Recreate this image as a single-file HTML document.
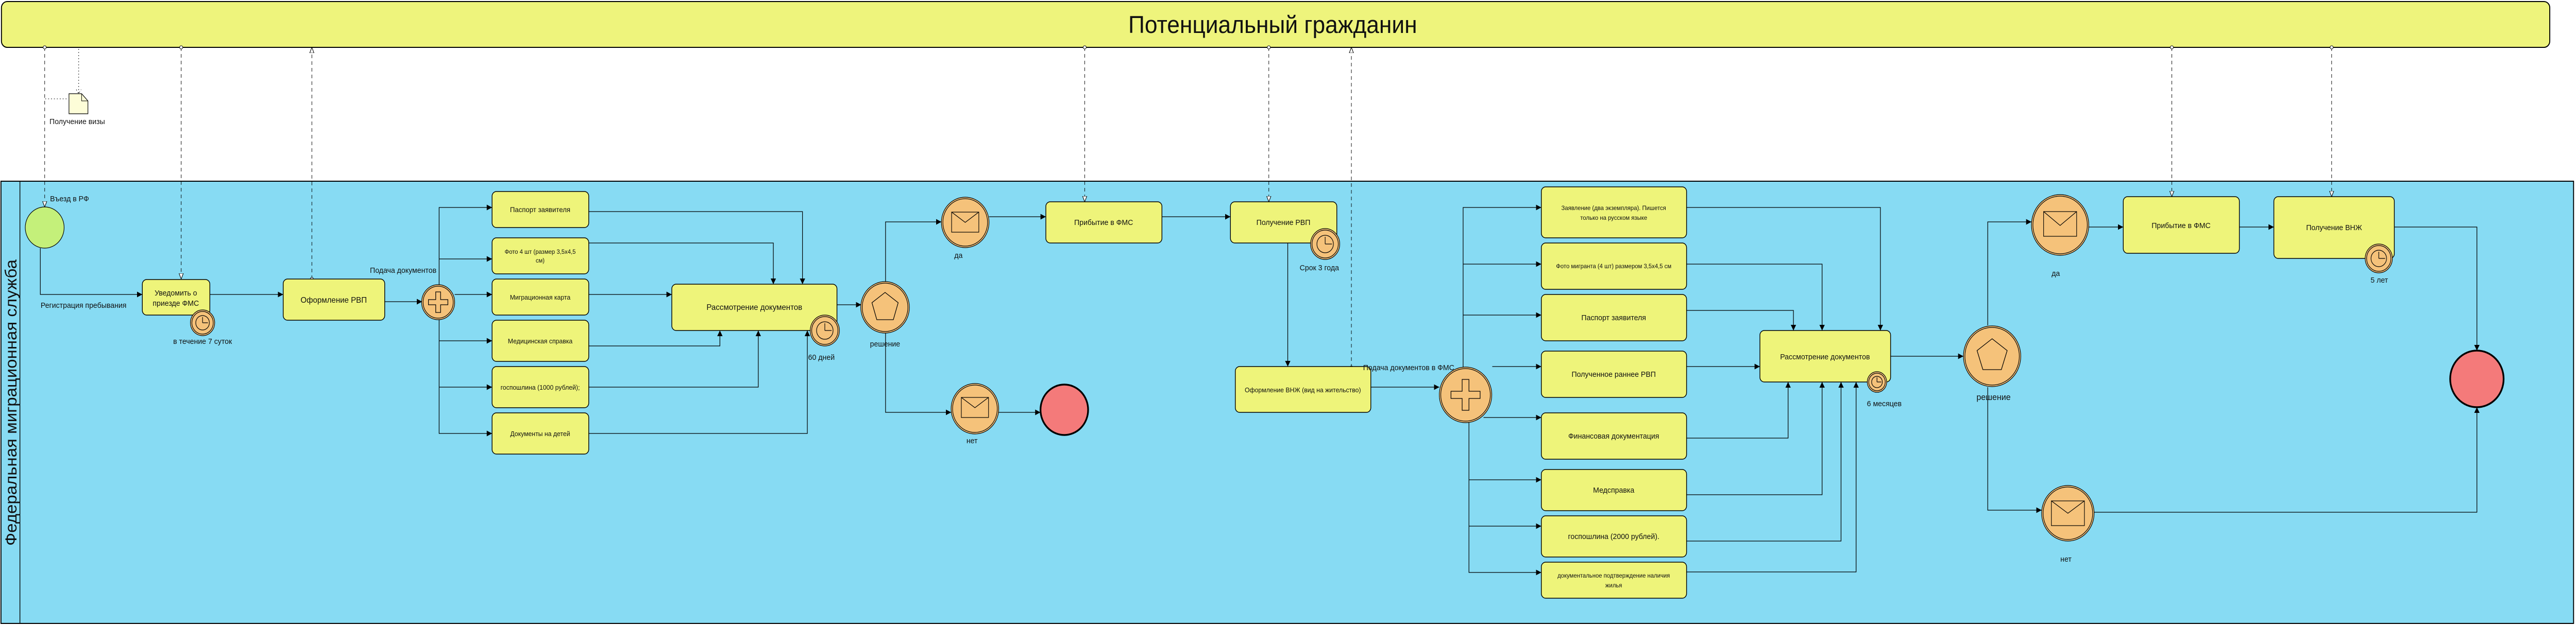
<!DOCTYPE html>
<html><head><meta charset="utf-8"><style>
html,body{margin:0;padding:0;background:#fff;overflow:hidden;width:100%;height:100%;}
svg{display:block;position:fixed;left:0;top:0;width:100vw;height:100vh;}
text{font-family:"Liberation Sans",sans-serif;fill:#111;}
</style></head><body>
<svg viewBox="0 0 5303 1216" preserveAspectRatio="none" xmlns="http://www.w3.org/2000/svg">
<defs>
<marker id="a" viewBox="0 0 10 10" refX="10" refY="5" markerWidth="11" markerHeight="11" markerUnits="userSpaceOnUse" orient="auto"><path d="M0,0 L10,5 L0,10 z" fill="#000"/></marker>
<marker id="o" viewBox="0 0 10 10" refX="10" refY="5" markerWidth="11" markerHeight="11" markerUnits="userSpaceOnUse" orient="auto"><path d="M0,1 L10,5 L0,9 z" fill="#fff" stroke="#000" stroke-width="1"/></marker>
<marker id="c" viewBox="0 0 10 10" refX="5" refY="5" markerWidth="8" markerHeight="8" markerUnits="userSpaceOnUse"><circle cx="5" cy="5" r="4" fill="#fff" stroke="#000" stroke-width="1.2"/></marker>
</defs>

<rect x="3" y="3" width="5246" height="89" rx="12" fill="#eef47c" stroke="#000" stroke-width="2"/>
<text x="2620" y="64" font-size="47" text-anchor="middle">Потенциальный гражданин</text>

<rect x="2" y="352" width="5296" height="859" fill="#87dbf3" stroke="#000" stroke-width="2"/>
<line x1="41" y1="352" x2="41" y2="1211" stroke="#000" stroke-width="1.5"/>
<text transform="translate(34,782) rotate(-90)" font-size="33" text-anchor="middle">Федеральная миграционная служба</text>

<g stroke="#000" stroke-width="1" stroke-dasharray="7,6" fill="none">
<path d="M92,92 V402" marker-start="url(#c)" marker-end="url(#o)"/>
<path d="M373,92 V542" marker-start="url(#c)" marker-end="url(#o)"/>
<path d="M642,542 V92" marker-start="url(#c)" marker-end="url(#o)"/>
<path d="M2233,92 V392" marker-start="url(#c)" marker-end="url(#o)"/>
<path d="M2612,92 V392" marker-start="url(#c)" marker-end="url(#o)"/>
<path d="M2782,714 V92" marker-start="url(#c)" marker-end="url(#o)"/>
<path d="M4471,92 V382" marker-start="url(#c)" marker-end="url(#o)"/>
<path d="M4800,92 V382" marker-start="url(#c)" marker-end="url(#o)"/>
</g>
<g stroke="#000" stroke-width="1" stroke-dasharray="2,4" fill="none">
<path d="M162,95 V182"/><path d="M157,174 L162,182 L167,174"/>
<path d="M93,192 H140"/>
</g>
<path d="M142,182 H168 L181,196 V221 H142 Z" fill="#fdfdd8" stroke="#000" stroke-width="1.2"/>
<path d="M168,182 V196 H181" fill="none" stroke="#000" stroke-width="1"/>
<text x="159" y="241" font-size="15" text-anchor="middle">Получение визы</text>

<g stroke="#000" stroke-width="1.3" fill="none" marker-end="url(#a)">
<path d="M83,482 V572 H293"/>
<path d="M432,572 H583"/>
<path d="M792,586 H869"/>
<path d="M904,555 V403 H1013"/>
<path d="M904,503 H1013"/>
<path d="M936,572 H1013"/>
<path d="M904,620 V842 H1013"/>
<path d="M904,662 H1013"/>
<path d="M904,752 H1013"/>
<path d="M1212,411 H1652 V552"/>
<path d="M1212,472 H1592 V552"/>
<path d="M1212,572 H1383"/>
<path d="M1212,672 H1482 V642"/>
<path d="M1212,752 H1561 V642"/>
<path d="M1212,842 H1662 V642"/>
<path d="M1723,592 H1773"/>
<path d="M1823,548 V431 H1938"/>
<path d="M1823,647 V801 H1958"/>
<path d="M2036,421 H2153"/>
<path d="M2392,421 H2533"/>
<path d="M2056,801 H2142"/>
<path d="M2651,472 V712"/>
<path d="M2822,752 H2963"/>
<path d="M3012,715 V403 H3173"/>
<path d="M3012,513 H3173"/>
<path d="M3012,612 H3173"/>
<path d="M3072,712 H3173"/>
<path d="M3054,811 H3173"/>
<path d="M3024,818 V1112 H3173"/>
<path d="M3024,932 H3173"/>
<path d="M3024,1022 H3173"/>
<path d="M3472,403 H3871 V642"/>
<path d="M3472,513 H3751 V642"/>
<path d="M3472,603 H3692 V642"/>
<path d="M3472,712 H3623"/>
<path d="M3472,851 H3681 V742"/>
<path d="M3472,961 H3751 V742"/>
<path d="M3472,1051 H3790 V742"/>
<path d="M3472,1111 H3821 V742"/>
<path d="M3892,692 H4042"/>
<path d="M4092,632 V431 H4182"/>
<path d="M4092,752 V991 H4203"/>
<path d="M4300,441 H4371"/>
<path d="M4610,441 H4681"/>
<path d="M4929,441 H5099 V681"/>
<path d="M4311,995 H5099 V791"/>
</g>

<g fill="#eef47a" stroke="#000" stroke-width="1.5">
<rect x="293" y="543" width="139" height="69" rx="9"/>
<rect x="583" y="542" width="209" height="80" rx="9"/>
<rect x="1013" y="372" width="199" height="70" rx="9"/>
<rect x="1013" y="462" width="199" height="70" rx="9"/>
<rect x="1013" y="542" width="199" height="70" rx="9"/>
<rect x="1013" y="622" width="199" height="80" rx="9"/>
<rect x="1013" y="712" width="199" height="80" rx="9"/>
<rect x="1013" y="802" width="199" height="80" rx="9"/>
<rect x="1383" y="552" width="340" height="90" rx="9"/>
<rect x="2153" y="392" width="239" height="80" rx="9"/>
<rect x="2533" y="392" width="219" height="80" rx="9"/>
<rect x="2543" y="712" width="279" height="89" rx="9"/>
<rect x="3173" y="363" width="299" height="99" rx="9"/>
<rect x="3173" y="472" width="299" height="90" rx="9"/>
<rect x="3173" y="572" width="299" height="90" rx="9"/>
<rect x="3173" y="682" width="299" height="90" rx="9"/>
<rect x="3173" y="802" width="299" height="90" rx="9"/>
<rect x="3173" y="912" width="299" height="80" rx="9"/>
<rect x="3173" y="1002" width="299" height="80" rx="9"/>
<rect x="3173" y="1092" width="299" height="70" rx="9"/>
<rect x="3623" y="642" width="269" height="100" rx="9"/>
<rect x="4371" y="382" width="239" height="110" rx="9"/>
<rect x="4681" y="382" width="248" height="120" rx="9"/>
</g>

<g font-size="15" text-anchor="middle">
<text x="362" y="574">Уведомить о</text>
<text x="362" y="594">приезде ФМС</text>
<text x="687" y="588" font-size="16">Оформление РВП</text>
<text x="1112" y="412" font-size="14">Паспорт заявителя</text>
<text x="1112" y="493" font-size="12">Фото 4 шт (размер 3,5х4,5</text>
<text x="1112" y="510" font-size="12">см)</text>
<text x="1112" y="582" font-size="13">Миграционная карта</text>
<text x="1112" y="667" font-size="13">Медицинская справка</text>
<text x="1112" y="757" font-size="13">госпошлина (1000 рублей);</text>
<text x="1112" y="847" font-size="13">Документы на детей</text>
<text x="1553" y="602" font-size="16">Рассмотрение документов</text>
<text x="2272" y="437">Прибытие в ФМС</text>
<text x="2642" y="437">Получение РВП</text>
<text x="2682" y="762" font-size="13">Оформление ВНЖ (вид на жительство)</text>
<text x="3322" y="408" font-size="12">Заявление (два экземпляра). Пишется</text>
<text x="3322" y="427" font-size="12">только на русском языке</text>
<text x="3322" y="521" font-size="12">Фото мигранта (4 шт) размером 3,5х4,5 см</text>
<text x="3322" y="622">Паспорт заявителя</text>
<text x="3322" y="732">Полученное раннее РВП</text>
<text x="3322" y="852">Финансовая документация</text>
<text x="3322" y="957">Медсправка</text>
<text x="3322" y="1047">госпошлина (2000 рублей).</text>
<text x="3322" y="1122" font-size="12">документальное подтверждение наличия</text>
<text x="3322" y="1141" font-size="12">жилья</text>
<text x="3757" y="698">Рассмотрение документов</text>
<text x="4490" y="443">Прибытие в ФМС</text>
<text x="4805" y="447">Получение ВНЖ</text>
</g>

<circle cx="92" cy="442" r="40" fill="#c4f07a" stroke="#000" stroke-width="1.2"/>
<circle cx="2191" cy="796" r="49" fill="#f47a7a" stroke="#000" stroke-width="3.5"/>
<circle cx="5099" cy="736" r="55" fill="#f47a7a" stroke="#000" stroke-width="3.5"/>

<g fill="#f5c27a" stroke="#000" stroke-width="1.2">
<circle cx="902" cy="587" r="34"/><circle cx="902" cy="587" r="31" fill="none"/>
<circle cx="3017" cy="767" r="54"/><circle cx="3017" cy="767" r="51" fill="none"/>
<circle cx="1822" cy="597" r="50"/><circle cx="1822" cy="597" r="47" fill="none"/>
<circle cx="4101" cy="692" r="59"/><circle cx="4101" cy="692" r="56" fill="none"/>
</g>
<g fill="none" stroke="#000" stroke-width="1.3">
<path d="M897,567 h10 v15 h15 v10 h-15 v15 h-10 v-15 h-15 v-10 h15 z"/>
<path d="M3010,737 h14 v23 h23 v14 h-23 v23 h-14 v-23 h-23 v-14 h23 z"/>
<path d="M1822,568 L1849,588 L1839,621 L1805,621 L1795,588 Z"/>
<path d="M4101,658 L4132,681 L4120,718 L4082,718 L4070,681 Z"/>
</g>

<g fill="#f5c27a" stroke="#000" stroke-width="1.2">
<circle cx="1987" cy="432" r="49"/><circle cx="1987" cy="432" r="46" fill="none"/>
<circle cx="2007" cy="794" r="49"/><circle cx="2007" cy="794" r="46" fill="none"/>
<circle cx="4241" cy="437" r="59"/><circle cx="4241" cy="437" r="56" fill="none"/>
<circle cx="4257" cy="997" r="54"/><circle cx="4257" cy="997" r="51" fill="none"/>
</g>
<g fill="none" stroke="#000" stroke-width="1.2">
<rect x="1959" y="412" width="56" height="39"/><path d="M1959,412 L1987,432 L2015,412"/>
<rect x="1979" y="772" width="56" height="39"/><path d="M1979,772 L2007,792 L2035,772"/>
<rect x="4207" y="411" width="68" height="48"/><path d="M4207,411 L4241,438 L4275,411"/>
<rect x="4223" y="973" width="68" height="48"/><path d="M4223,973 L4257,997 L4291,973"/>
</g>

<g fill="#f5c27a" stroke="#000" stroke-width="1.2">
<circle cx="417" cy="627" r="25"/><circle cx="417" cy="627" r="22" fill="none"/><circle cx="417" cy="627" r="14" fill="none"/>
<circle cx="1698" cy="642" r="30"/><circle cx="1698" cy="642" r="27" fill="none"/><circle cx="1698" cy="642" r="17" fill="none"/>
<circle cx="2728" cy="474" r="30"/><circle cx="2728" cy="474" r="27" fill="none"/><circle cx="2728" cy="474" r="17" fill="none"/>
<circle cx="3864" cy="742" r="20"/><circle cx="3864" cy="742" r="17" fill="none"/><circle cx="3864" cy="742" r="11" fill="none"/>
<circle cx="4897" cy="502" r="28"/><circle cx="4897" cy="502" r="25" fill="none"/><circle cx="4897" cy="502" r="16" fill="none"/>
</g>
<g fill="none" stroke="#000" stroke-width="1.2">
<path d="M417,627 V616 M417,627 H428"/>
<path d="M1698,642 V628 M1698,642 H1712"/>
<path d="M2728,474 V460 M2728,474 H2742"/>
<path d="M3864,742 V733 M3864,742 H3873"/>
<path d="M4897,502 V489 M4897,502 H4910"/>
</g>

<g font-size="15">
<text x="103" y="391">Въезд в РФ</text>
<text x="172" y="598" text-anchor="middle">Регистрация пребывания</text>
<text x="417" y="668" text-anchor="middle">в течение 7 суток</text>
<text x="830" y="530" text-anchor="middle">Подача документов</text>
<text x="1691" y="699" text-anchor="middle">60 дней</text>
<text x="1822" y="673" text-anchor="middle">решение</text>
<text x="1973" y="501" text-anchor="middle">да</text>
<text x="2001" y="861" text-anchor="middle">нет</text>
<text x="2716" y="525" text-anchor="middle">Срок 3 года</text>
<text x="2900" y="719" text-anchor="middle">Подача документов в ФМС</text>
<text x="3879" y="789" text-anchor="middle">6 месяцев</text>
<text x="4104" y="777" text-anchor="middle" font-size="17">решение</text>
<text x="4232" y="536" text-anchor="middle">да</text>
<text x="4898" y="549" text-anchor="middle">5 лет</text>
<text x="4253" y="1091" text-anchor="middle">нет</text>
</g>
</svg>
</body></html>
